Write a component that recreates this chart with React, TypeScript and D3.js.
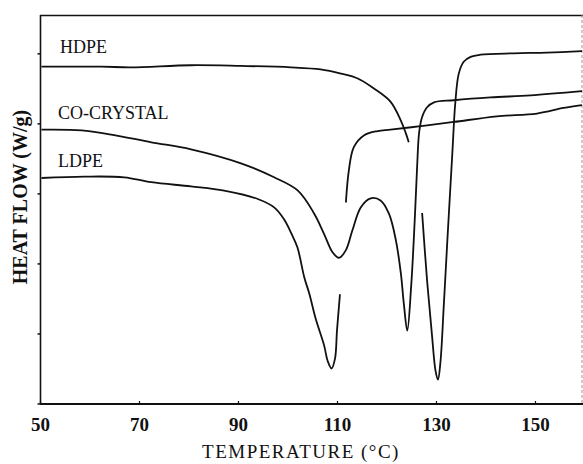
import { useEffect, useRef } from "react"
import * as d3 from "d3"

const W = 583
const H = 464

const X_TICKS = [50, 70, 90, 110, 130, 150]
const Y_TICKS = [0, 1, 2, 3, 4, 5]

// null marks a pen lift in the trace
const HDPE_T = [50.3, 62.4, 68.4, 80.5, 90.6, 100.7, 106.7, 110.8, 114.2, 117.4, 120.8, 122.9, 123.9, 124.5, null,
  127.2, 128.2, 129.2, 129.9, 130.4, 130.9, 131.6, 132.3, 133.3, 133.9, 134.6, 135.6, 137.0, 139.0, 145.7, 152.4, 159.5]
const HDPE_Y = [4.81, 4.81, 4.8, 4.83, 4.82, 4.8, 4.77, 4.71, 4.64, 4.5, 4.31, 4.04, 3.86, 3.73, null,
  2.72, 1.76, 0.97, 0.47, 0.34, 0.59, 1.43, 2.33, 3.57, 4.29, 4.71, 4.88, 4.95, 4.98, 5.0, 5.01, 5.03]

const COX_T = [50.3, 58.4, 64.4, 72.5, 80.5, 90.6, 97.3, 102.1, 105.4, 107.4, 109.1, 110.4, 111.8, 113.1, 114.8, 116.8,
  118.8, 120.5, 121.9, 122.9, 123.5, 124.2, 125.0, 125.7, 126.2, 126.6, 127.2, 128.2, 129.6, 133.6, 141.0, 149.1, 159.5]
const COX_Y = [3.91, 3.9, 3.84, 3.73, 3.63, 3.43, 3.23, 3.04, 2.71, 2.42, 2.16, 2.08, 2.19, 2.47, 2.8, 2.93,
  2.9, 2.71, 2.33, 1.86, 1.43, 1.04, 1.69, 2.61, 3.4, 3.87, 4.09, 4.23, 4.3, 4.33, 4.37, 4.4, 4.46]

const LDPE_T = [50.3, 59.0, 67.0, 72.5, 80.5, 87.2, 94.0, 97.3, 99.3, 100.7, 102.0, 103.4, 104.4, 105.7, 107.4, 108.1,
  108.9, 109.6, 110.0, 110.6, null, 111.8, 112.4, 113.4, 115.5, 118.2, 120.8, 126.9, 133.6, 142.3, 150.4, 155.8, 159.5]
const LDPE_Y = [3.22, 3.24, 3.23, 3.16, 3.1, 3.04, 2.92, 2.8, 2.63, 2.44, 2.23, 1.8, 1.57, 1.21, 0.83, 0.61,
  0.5, 0.64, 1.04, 1.56, null, 2.87, 3.33, 3.66, 3.83, 3.89, 3.91, 3.96, 4.02, 4.1, 4.14, 4.22, 4.26]

const SERIES = ["HDPE", "CO-CRYSTAL", "LDPE"]

const FONT = "'Liberation Serif', 'Times New Roman', serif"

export default function App() {
  const svgRef = useRef<SVGSVGElement>(null)

  useEffect(() => {
    if (!svgRef.current) return
    const svg = d3.select(svgRef.current)
    svg.selectAll("*").remove()

    const x = d3.scaleLinear().domain([50, 159.5]).range([40, 582])
    const y = d3.scaleLinear().domain([0, 5.54]).range([403.5, 15.5])

    // frame
    svg.append("line").attr("x1", 40).attr("x2", 583).attr("y1", 15.5).attr("y2", 15.5)
      .attr("stroke", "#111").attr("stroke-width", 1.5)
    svg.append("line").attr("x1", 40.5).attr("x2", 40.5).attr("y1", 15).attr("y2", 404)
      .attr("stroke", "#111").attr("stroke-width", 1.6)
    svg.append("line").attr("x1", 582).attr("x2", 582).attr("y1", 15).attr("y2", 404)
      .attr("stroke", "#999").attr("stroke-width", 1).attr("stroke-dasharray", "3,2")

    // x axis
    const xAxis = svg.append("g").attr("transform", "translate(0,404)")
      .call(d3.axisBottom(x).tickValues(X_TICKS).tickSize(-3).tickSizeOuter(0).tickFormat(d3.format("d")))
    xAxis.select(".domain").attr("stroke", "#111").attr("stroke-width", 2).attr("d", "M40,0H583")
    xAxis.selectAll(".tick line").attr("stroke", "#111").attr("stroke-width", 1.2)
    xAxis.selectAll(".tick text")
      .attr("y", 27).attr("dy", 0)
      .attr("font-family", FONT).attr("font-size", 19).attr("font-weight", "bold").attr("fill", "#111")

    // y axis ticks only
    const yAxis = svg.append("g").attr("transform", "translate(40.5,0)")
      .call(d3.axisLeft(y).tickValues(Y_TICKS).tickSize(3).tickSizeOuter(0).tickFormat(() => ""))
    yAxis.select(".domain").remove()
    yAxis.selectAll(".tick line").attr("stroke", "#111").attr("stroke-width", 1.5)

    // axis titles
    svg.append("text").attr("x", 301).attr("y", 458).attr("text-anchor", "middle")
      .attr("font-family", FONT).attr("font-size", 19).attr("letter-spacing", 1.5).attr("fill", "#111")
      .text("TEMPERATURE (°C)")
    svg.append("text").attr("transform", "translate(27,197) rotate(-90)").attr("text-anchor", "middle")
      .attr("font-family", FONT).attr("font-size", 20).attr("font-weight", "bold").attr("fill", "#111")
      .text("HEAT FLOW (W/g)")

    // traces
    const line = d3.line<[number | null, number | null]>()
      .defined((d) => d[0] != null && d[1] != null)
      .x((d) => x(d[0] as number))
      .y((d) => y(d[1] as number))
      .curve(d3.curveCatmullRom.alpha(0.5))

    const traces = [
      d3.zip(HDPE_T, HDPE_Y),
      d3.zip(COX_T, COX_Y),
      d3.zip(LDPE_T, LDPE_Y),
    ] as [number | null, number | null][][]

    svg.append("g").selectAll("path").data(traces).join("path")
      .attr("d", (d) => line(d))
      .attr("fill", "none")
      .attr("stroke", "#111")
      .attr("stroke-width", 1.8)
      .attr("stroke-linejoin", "round")

    // series labels
    const labelPos = [[60, 53], [58, 119], [58, 167]]
    svg.append("g").selectAll("text").data(SERIES).join("text")
      .attr("x", (_, i) => labelPos[i][0])
      .attr("y", (_, i) => labelPos[i][1])
      .attr("font-family", FONT).attr("font-size", 18).attr("fill", "#111")
      .text((d) => d)
  }, [])

  return (
    <svg
      ref={svgRef}
      width={W}
      height={H}
      style={{ position: "absolute", left: 0, top: 0, background: "#fff" }}
    />
  )
}
